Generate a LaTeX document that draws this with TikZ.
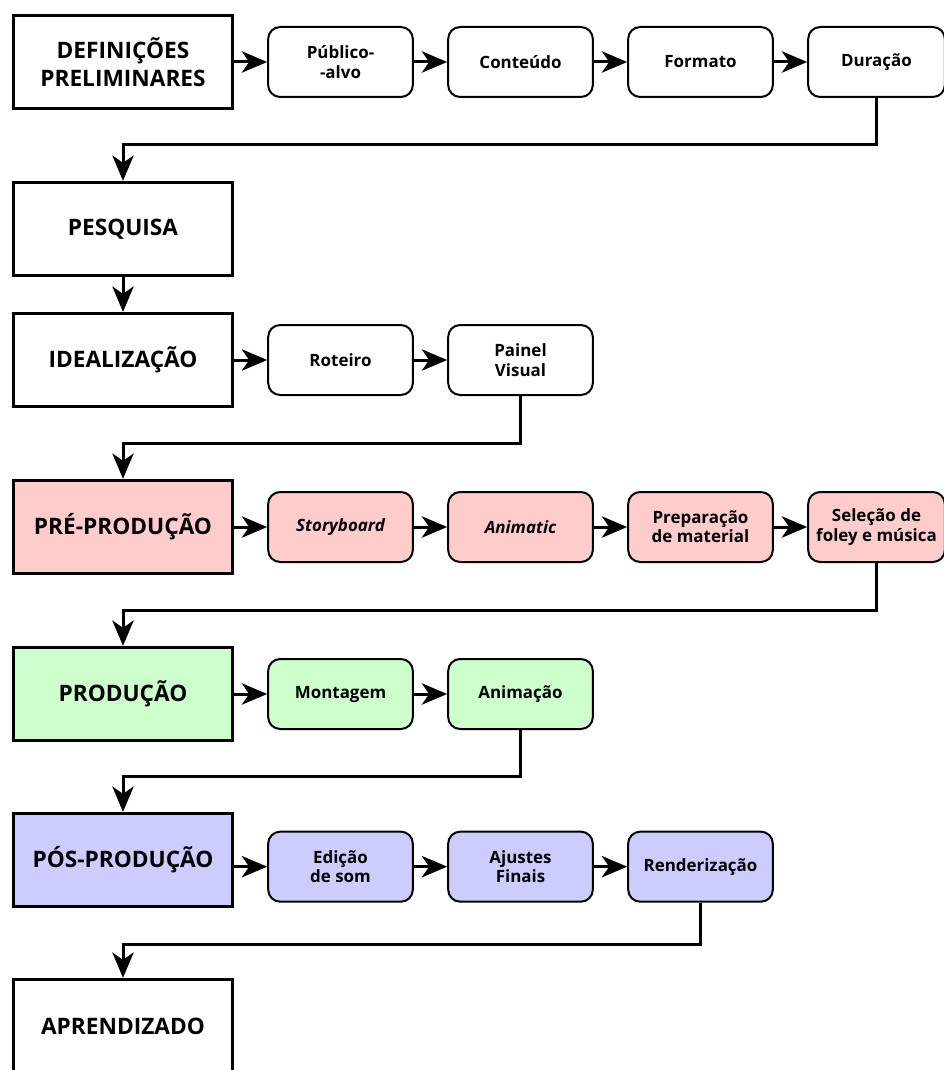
\documentclass[tikz,border=0pt]{standalone}
\usepackage{fontspec}
\setmainfont{Open Sans}
\usetikzlibrary{positioning,arrows.meta}
\definecolor{rosa}{RGB}{255,204,204}
\definecolor{verde}{RGB}{204,255,204}
\definecolor{lilas}{RGB}{204,204,255}
\tikzset{
  etapa/.style={draw, line width=2.25pt, minimum width=164pt, minimum height=70pt,
    align=center, font=\fontsize{17}{20.5}\selectfont\bfseries},
  tarefa/.style={draw, line width=1.5pt, rounded corners=9pt, minimum width=108.5pt,
    minimum height=52.5pt, align=center, font=\fontsize{12.7}{14.5}\selectfont\bfseries},
  curta/.style={tarefa, minimum width=102.5pt},
  seta/.style={line width=2.25pt, -{Stealth[length=19pt,width=16pt,inset=5.5pt]}}
}
\begin{document}
\begin{tikzpicture}[x=0.75pt,y=-0.75pt]
\useasboundingbox (0,0) rectangle (944,1070);

\node[etapa] (def) at (123,62) {DEFINIÇÕES\\PRELIMINARES};
\node[tarefa, right=25pt of def] (pub) {Público-\\-alvo};
\node[tarefa, right=25pt of pub] (cont) {Conteúdo};
\node[tarefa, right=25pt of cont] (form) {Formato};
\node[curta, right=25pt of form] (dur) {Duração};

\node[etapa] (pesq) at (123,229) {PESQUISA};

\node[etapa] (ideal) at (123,360) {IDEALIZAÇÃO};
\node[tarefa, right=25pt of ideal] (rot) {Roteiro};
\node[tarefa, right=25pt of rot] (pain) {Painel\\Visual};

\node[etapa, fill=rosa] (pre) at (123,527) {PRÉ-PRODUÇÃO};
\node[tarefa, fill=rosa, right=25pt of pre] (story) {\itshape Storyboard};
\node[tarefa, fill=rosa, right=25pt of story] (anim) {\itshape Animatic};
\node[tarefa, fill=rosa, right=25pt of anim] (prep) {Preparação\\de material};
\node[curta, fill=rosa, right=25pt of prep] (sel) {Seleção de\\foley e música};

\node[etapa, fill=verde] (prod) at (123,694) {PRODUÇÃO};
\node[tarefa, fill=verde, right=25pt of prod] (mont) {Montagem};
\node[tarefa, fill=verde, right=25pt of mont] (anima) {Animação};

\node[etapa, fill=lilas] (pos) at (123,860) {PÓS-PRODUÇÃO};
\node[tarefa, fill=lilas, right=25pt of pos, yshift=-5pt] (som) {Edição\\de som};
\node[tarefa, fill=lilas, right=25pt of som] (ajus) {Ajustes\\Finais};
\node[tarefa, fill=lilas, right=25pt of ajus] (rend) {Renderização};

\node[etapa] (apr) at (123,1026) {APRENDIZADO};

\coordinate (k1) at (0,145);
\coordinate (k2) at (0,443);
\coordinate (k3) at (0,610);
\coordinate (k4) at (0,776);
\coordinate (k5) at (0,944);

\draw[seta] (def) -- (pub);
\draw[seta] (pub) -- (cont);
\draw[seta] (cont) -- (form);
\draw[seta] (form) -- (dur);
\draw[seta] (dur.south) -- (dur.south |- k1) -| (pesq.north);
\draw[seta] (pesq) -- (ideal);
\draw[seta] (ideal) -- (rot);
\draw[seta] (rot) -- (pain);
\draw[seta] (pain.south) -- (pain.south |- k2) -| (pre.north);
\draw[seta] (pre) -- (story);
\draw[seta] (story) -- (anim);
\draw[seta] (anim) -- (prep);
\draw[seta] (prep) -- (sel);
\draw[seta] (sel.south) -- (sel.south |- k3) -| (prod.north);
\draw[seta] (prod) -- (mont);
\draw[seta] (mont) -- (anima);
\draw[seta] (anima.south) -- (anima.south |- k4) -| (pos.north);
\draw[seta] (pos.east |- som.west) -- (som.west);
\draw[seta] (som) -- (ajus);
\draw[seta] (ajus) -- (rend);
\draw[seta] (rend.south) -- (rend.south |- k5) -| (apr.north);
\end{tikzpicture}
\end{document}
